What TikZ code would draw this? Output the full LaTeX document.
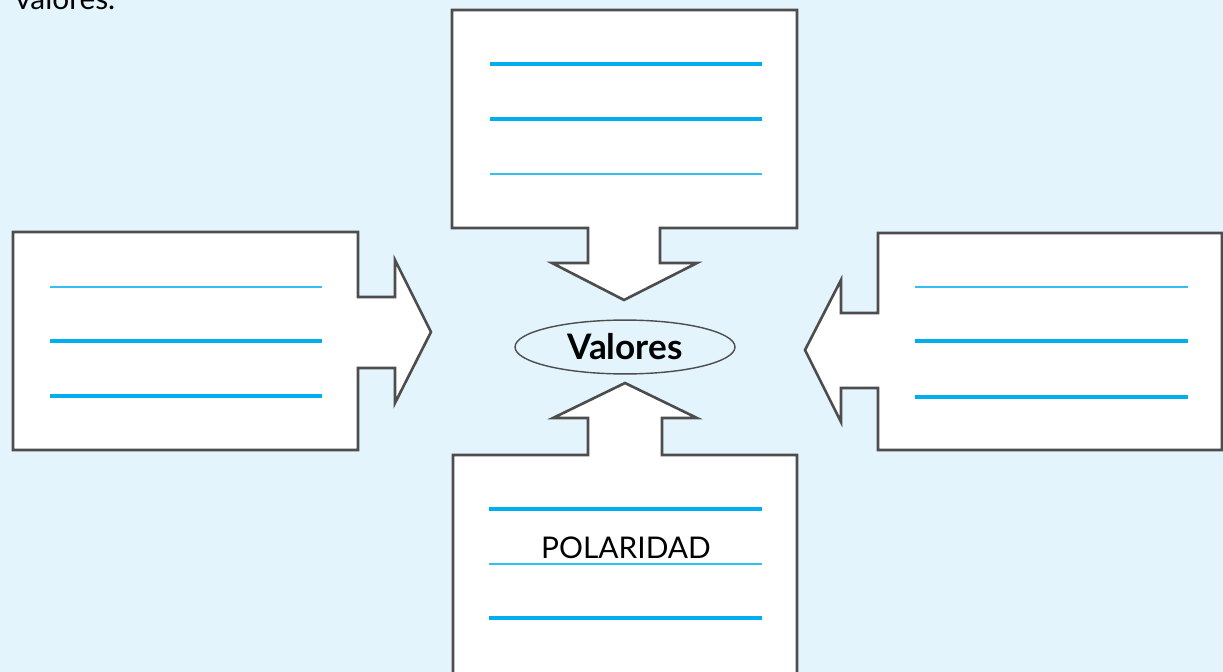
\documentclass[tikz,border=0pt]{standalone}
\usepackage{fontspec}
\setmainfont{Lato}
\usepackage{tikz}
\usetikzlibrary{positioning,shapes.geometric}

\definecolor{bgblue}{HTML}{E3F4FC}
\definecolor{linecyan}{HTML}{00AEEF}
\definecolor{linelight}{HTML}{33BFF0}
\definecolor{edgegray}{HTML}{4D4D4D}

\begin{document}
\begin{tikzpicture}[x=0.02cm, y=-0.02cm]
		\tikzstyle{card}=[draw=edgegray, fill=white, line width=1.5pt, line join=miter]
		\tikzstyle{thickline}=[linecyan, line width=2.3pt]
		\tikzstyle{thinline}=[linelight, line width=1.2pt]
		
		% Background
		\useasboundingbox (0,0) rectangle (1223,672);
		\clip (0,0) rectangle (1223,672);
		\fill[bgblue] (0,0) rectangle (1223,672);
		
		% Cut off text at the top
		\node[anchor=base west, font=\fontsize{17}{20}\selectfont, inner sep=0pt] (intro) at (15,10) {valores.};
		
		% Top box
		\draw[card] (452,10) -- (797,10) -- (797,228) -- (660,228) -- (660,263) -- (697,263) -- (624,300)
		-- (552,263) -- (588,263) -- (588,228) -- (452,228) -- cycle;
		\draw[thickline] (490,64) -- (762,64);
		\draw[thickline] (490,119) -- (762,119);
		\draw[thinline] (490,174) -- (762,174);
		
		% Left box
		\draw[card] (13,232) -- (358,232) -- (358,297) -- (395,297) -- (395,260) -- (431,332)
		-- (395,403) -- (395,368) -- (358,368) -- (358,450) -- (13,450) -- cycle;
		\draw[thinline] (50,287) -- (322,287);
		\foreach \y in {341,396}
		\draw[thickline] (50,\y) -- (322,\y);
		
		% Right box
		\draw[card] (1222,233) -- (878,233) -- (878,313) -- (841,313) -- (841,280) -- (805,350)
		-- (841,422) -- (841,388) -- (878,388) -- (878,450) -- (1222,450) -- cycle;
		\draw[thinline] (915,287) -- (1188,287);
		\foreach \y in {341,397}
		\draw[thickline] (915,\y) -- (1188,\y);
		
		% Bottom box
		\draw[card] (453,690) -- (453,455) -- (588,455) -- (588,418) -- (553,418) -- (625,383)
		-- (697,418) -- (662,418) -- (662,455) -- (797,455) -- (797,690);
		\draw[thickline] (489,509) -- (762,509);
		\draw[thinline] (489,564) -- (762,564);
		\draw[thickline] (489,618) -- (762,618);
		\node[anchor=base, font=\fontsize{17}{20}\selectfont, inner sep=0pt] (polaridad) at (626,558) {POLARIDAD};
		
		% Centre
		\node[ellipse, draw=edgegray, line width=0.8pt, fill=bgblue, minimum width=4.4cm, minimum height=1.02cm,
		font=\fontsize{20}{24}\selectfont\bfseries] (valores) at (625,347) {Valores};
		
		\end{tikzpicture}
\end{document}
